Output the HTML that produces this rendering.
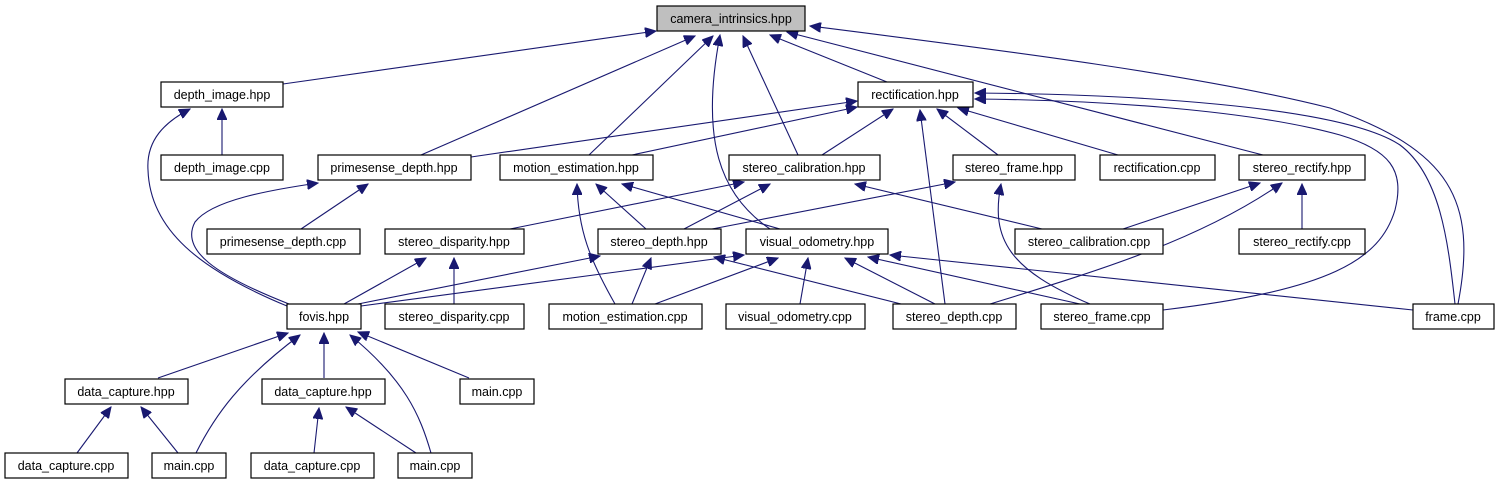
<!DOCTYPE html>
<html><head><meta charset="utf-8"><style>html,body{margin:0;padding:0;background:#fff}svg{display:block}</style></head>
<body>
<svg width="1500" height="485" viewBox="0 0 1500 485" xmlns="http://www.w3.org/2000/svg">
<defs>
<marker id="a" markerUnits="userSpaceOnUse" markerWidth="12" markerHeight="10" refX="11" refY="5" orient="auto">
<path d="M0,0 L11,5 L0,10 Z" fill="#191970" stroke="#191970"/>
</marker>
</defs>
<g fill="none" stroke="#191970" stroke-width="1.1" marker-end="url(#a)">
<path d="M283,84 L656,31"/>
<path d="M421,155 L695,36"/>
<path d="M589,155 L713,36"/>
<path d="M770,229 C720,195 700,140 720,35"/>
<path d="M798,155 L743,36"/>
<path d="M887,82 L770,35"/>
<path d="M1263,155 L787,32"/>
<path d="M1458,304 C1478,200 1450,150 1330,108 C1200,75 1000,50 810,26"/>
<path d="M471,157 L857,101"/>
<path d="M632,155 L857,107"/>
<path d="M822,155 L893,109"/>
<path d="M945,304 L920,110"/>
<path d="M998,155 L937,109"/>
<path d="M1118,155 L958,108"/>
<path d="M1163,310 C1330,290 1380,260 1395,210 C1405,170 1390,150 1340,135 C1250,110 1100,100 975,99"/>
<path d="M1455,304 C1448,240 1440,175 1400,145 C1340,105 1120,94 975,93"/>
<path d="M222,155 L222,109"/>
<path d="M287,306 C200,270 150,230 148,170 C146,140 165,122 190,109"/>
<path d="M301,229 L368,184"/>
<path d="M289,304 C215,275 180,250 195,222 C212,200 270,190 318,183"/>
<path d="M615,304 C590,260 578,230 577,184"/>
<path d="M646,229 L596,184"/>
<path d="M780,229 L622,184"/>
<path d="M510,229 L744,182"/>
<path d="M684,229 L770,184"/>
<path d="M1042,229 L855,184"/>
<path d="M712,229 L955,182"/>
<path d="M1090,304 C1010,270 990,240 1001,184"/>
<path d="M1123,229 L1260,183"/>
<path d="M990,304 C1100,270 1200,240 1282,183"/>
<path d="M1302,229 L1302,184"/>
<path d="M344,304 L426,258"/>
<path d="M454,304 L454,258"/>
<path d="M358,304 L600,256"/>
<path d="M632,304 L651,258"/>
<path d="M905,305 L714,257"/>
<path d="M361,306 L744,255"/>
<path d="M655,304 L778,258"/>
<path d="M800,304 L808,258"/>
<path d="M935,304 L845,258"/>
<path d="M1080,304 L868,257"/>
<path d="M1413,310 L890,255"/>
<path d="M158,378 L288,333"/>
<path d="M196,453 C215,415 240,380 300,335"/>
<path d="M324,378 L324,333"/>
<path d="M431,453 C420,415 405,380 350,335"/>
<path d="M469,378 L358,332"/>
<path d="M77,453 L111,407"/>
<path d="M178,453 L141,407"/>
<path d="M314,453 L319,408"/>
<path d="M416,453 L346,407"/>
</g>
<g stroke="#000" stroke-width="1.2" fill="#fff">
<rect x="657" y="6" width="148" height="25" fill="#bfbfbf"/>
<rect x="161" y="82" width="122" height="25"/>
<rect x="858" y="82" width="115" height="25"/>
<rect x="161" y="155" width="122" height="25"/>
<rect x="318" y="155" width="153" height="25"/>
<rect x="500" y="155" width="153" height="25"/>
<rect x="729" y="155" width="151" height="25"/>
<rect x="953" y="155" width="122" height="25"/>
<rect x="1100" y="155" width="115" height="25"/>
<rect x="1239" y="155" width="126" height="25"/>
<rect x="207" y="229" width="153" height="25"/>
<rect x="385" y="229" width="139" height="25"/>
<rect x="598" y="229" width="123" height="25"/>
<rect x="746" y="229" width="142" height="25"/>
<rect x="1015" y="229" width="148" height="25"/>
<rect x="1239" y="229" width="126" height="25"/>
<rect x="287" y="304" width="74" height="25"/>
<rect x="385" y="304" width="139" height="25"/>
<rect x="549" y="304" width="153" height="25"/>
<rect x="726" y="304" width="139" height="25"/>
<rect x="893" y="304" width="123" height="25"/>
<rect x="1041" y="304" width="122" height="25"/>
<rect x="1413" y="304" width="81" height="25"/>
<rect x="65" y="379" width="123" height="25"/>
<rect x="262" y="379" width="123" height="25"/>
<rect x="460" y="379" width="74" height="25"/>
<rect x="5" y="453" width="123" height="25"/>
<rect x="152" y="453" width="74" height="25"/>
<rect x="251" y="453" width="123" height="25"/>
<rect x="398" y="453" width="74" height="25"/>
</g>
<g font-family="Liberation Sans, sans-serif" font-size="12.5" text-anchor="middle" fill="#000">
<text x="731" y="23">camera_intrinsics.hpp</text>
<text x="222" y="99">depth_image.hpp</text>
<text x="915" y="99">rectification.hpp</text>
<text x="222" y="172">depth_image.cpp</text>
<text x="394" y="172">primesense_depth.hpp</text>
<text x="576" y="172">motion_estimation.hpp</text>
<text x="804" y="172">stereo_calibration.hpp</text>
<text x="1014" y="172">stereo_frame.hpp</text>
<text x="1157" y="172">rectification.cpp</text>
<text x="1302" y="172">stereo_rectify.hpp</text>
<text x="283" y="246">primesense_depth.cpp</text>
<text x="454" y="246">stereo_disparity.hpp</text>
<text x="659" y="246">stereo_depth.hpp</text>
<text x="817" y="246">visual_odometry.hpp</text>
<text x="1089" y="246">stereo_calibration.cpp</text>
<text x="1302" y="246">stereo_rectify.cpp</text>
<text x="324" y="321">fovis.hpp</text>
<text x="454" y="321">stereo_disparity.cpp</text>
<text x="625" y="321">motion_estimation.cpp</text>
<text x="795" y="321">visual_odometry.cpp</text>
<text x="954" y="321">stereo_depth.cpp</text>
<text x="1102" y="321">stereo_frame.cpp</text>
<text x="1453" y="321">frame.cpp</text>
<text x="126" y="396">data_capture.hpp</text>
<text x="323" y="396">data_capture.hpp</text>
<text x="497" y="396">main.cpp</text>
<text x="66" y="470">data_capture.cpp</text>
<text x="189" y="470">main.cpp</text>
<text x="312" y="470">data_capture.cpp</text>
<text x="435" y="470">main.cpp</text>
</g>
</svg>
</body></html>
